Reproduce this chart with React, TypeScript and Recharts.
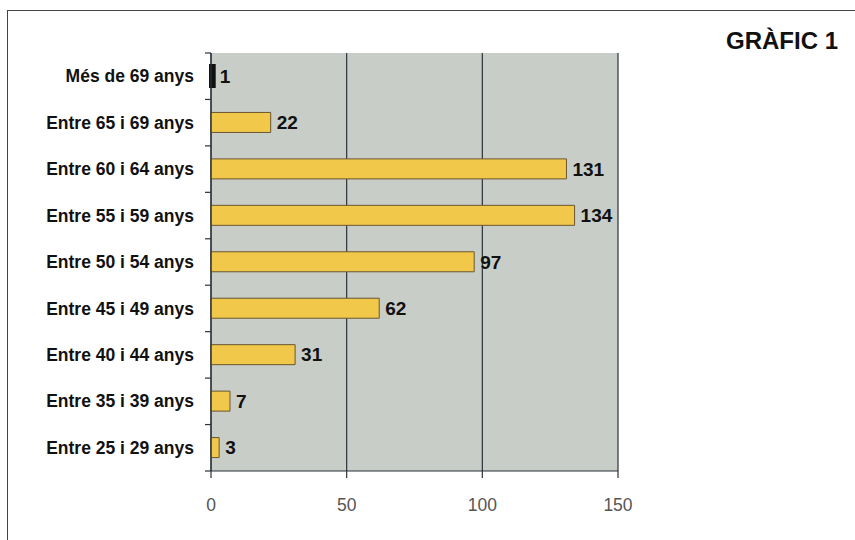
import React from "react";
import { BarChart, Bar, XAxis, YAxis, CartesianGrid, Cell, LabelList } from "recharts";

const categories = [
  "Més de 69 anys",
  "Entre 65 i 69 anys",
  "Entre 60 i 64 anys",
  "Entre 55 i 59 anys",
  "Entre 50 i 54 anys",
  "Entre 45 i 49 anys",
  "Entre 40 i 44 anys",
  "Entre 35 i 39 anys",
  "Entre 25 i 29 anys",
];
const values = [1, 22, 131, 134, 97, 62, 31, 7, 3];
const xTicks = [0, 50, 100, 150];
const title = "GRÀFIC 1";

const data = categories.map((c, i) => ({ name: c, value: values[i] }));

const W = 855;
const H = 540;
const PLOT_LEFT = 211;
const PLOT_TOP = 53;
const PLOT_BOTTOM = 471;
const PLOT_RIGHT = 618;
const X_AXIS_H = 40;
const FONT = "'Liberation Sans', Arial, Helvetica, sans-serif";
const AXIS_COLOR = "#2b323a";

const bandHalf = (PLOT_BOTTOM - PLOT_TOP) / categories.length / 2;

const YTick = (props: any) => {
  const { x, y, payload, index } = props;
  return (
    <g>
      <line x1={PLOT_LEFT - 6} x2={PLOT_LEFT} y1={y - bandHalf} y2={y - bandHalf} stroke={AXIS_COLOR} strokeWidth={1.2} />
      {index === categories.length - 1 && (
        <line x1={PLOT_LEFT - 6} x2={PLOT_LEFT} y1={y + bandHalf} y2={y + bandHalf} stroke={AXIS_COLOR} strokeWidth={1.2} />
      )}
      <text x={x} y={y} dy="0.35em" textAnchor="end" fontFamily={FONT} fontWeight="bold" fontSize={17.5} fill="#111">
        {payload.value}
      </text>
    </g>
  );
};

export default function App() {
  return (
    <div style={{ position: "absolute", left: 0, top: 0, width: W, height: H, background: "#fff", overflow: "hidden" }}>
      <div
        style={{
          position: "absolute",
          left: 7,
          top: 10,
          width: W,
          height: H,
          borderLeft: "1.5px solid #444",
          borderTop: "1.5px solid #444",
        }}
      />
      <div
        style={{
          position: "absolute",
          right: 17,
          top: 26,
          fontFamily: FONT,
          fontWeight: "bold",
          fontSize: 24,
          color: "#111",
          lineHeight: "30px",
        }}
      >
        {title}
      </div>
      <div style={{ position: "absolute", left: 0, top: 0 }}>
        <BarChart
          width={W}
          height={H}
          data={data}
          layout="vertical"
          margin={{ top: PLOT_TOP, bottom: H - PLOT_BOTTOM - X_AXIS_H, left: 0, right: W - PLOT_RIGHT }}
          barSize={20}
        >
          <CartesianGrid horizontal={false} vertical={true} stroke={AXIS_COLOR} strokeWidth={1.2} fill="#c8cec7" fillOpacity={1} />
          <XAxis
            type="number"
            domain={[0, 150]}
            ticks={xTicks}
            interval={0}
            axisLine={{ stroke: AXIS_COLOR, strokeWidth: 1.2 }}
            tickLine={{ stroke: AXIS_COLOR, strokeWidth: 1.2 }}
            tickSize={7}
            tickMargin={21}
            tick={{ fontFamily: FONT, fontSize: 17.5, fill: "#555" }}
            height={X_AXIS_H}
          />
          <YAxis
            type="category"
            dataKey="name"
            width={PLOT_LEFT}
            axisLine={{ stroke: AXIS_COLOR, strokeWidth: 1.2 }}
            tickLine={false}
            tickSize={6}
            tickMargin={11}
            interval={0}
            tick={<YTick />}
          />
          <Bar dataKey="value" fill="#f2c84a" stroke="#6a5630" strokeWidth={1} isAnimationActive={false}>
            {data.map((d, i) => (
              <Cell
                key={d.name}
                fill={i === 0 ? "#111" : "#f2c84a"}
                stroke={i === 0 ? "#111" : "#6a5630"}
                strokeWidth={i === 0 ? 4 : 1}
              />
            ))}
            <LabelList
              dataKey="value"
              position="right"
              offset={6}
              style={{ fontFamily: FONT, fontWeight: "bold", fontSize: 19, fill: "#111" }}
            />
          </Bar>
        </BarChart>
      </div>
    </div>
  );
}
